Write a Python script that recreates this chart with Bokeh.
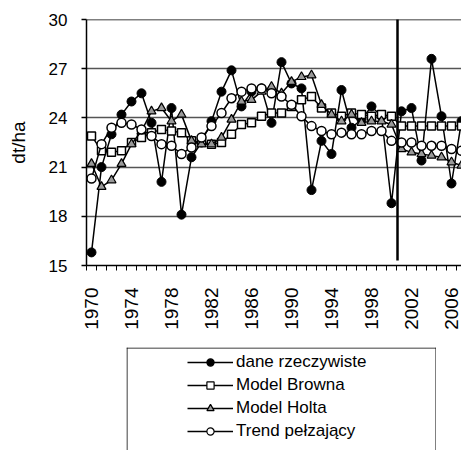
import math
from bokeh.plotting import figure
from bokeh.layouts import column, row
from bokeh.models import (FixedTicker, Legend, LegendItem, Span, Spacer,
                          ColumnDataSource, Range1d)
from bokeh.embed import file_html
from bokeh.resources import INLINE

# ---- data ----
years = list(range(1970, 2008))
dane = [15.8, 21.0, 23.0, 24.2, 25.0, 25.5, 23.7, 20.1, 24.6, 18.1,
        21.6, 22.5, 23.8, 25.6, 26.9, 24.7, 25.6, 25.8, 23.7, 27.4,
        26.1, 25.8, 19.6, 22.6, 21.8, 25.7, 23.4, 23.9, 24.7, 24.1,
        18.8, 24.4, 24.6, 21.4, 27.6, 24.1, 20.0, 23.8]
brown = [22.9, 22.0, 21.9, 22.0, 22.5, 22.8, 23.1, 23.3, 23.2, 23.1,
         22.6, 22.5, 22.4, 22.5, 23.0, 23.6, 23.7, 24.1, 24.3, 24.3,
         24.7, 25.1, 25.3, 24.6, 24.3, 24.1, 24.3, 24.2, 24.1, 24.2,
         24.1, 23.5, 23.5, 23.5, 23.5, 23.5, 23.5, 23.5]
holt = [21.2, 19.8, 20.2, 21.2, 22.4, 23.2, 24.4, 24.6, 23.8, 24.2,
        22.6, 22.4, 22.4, 22.8, 23.9, 25.0, 25.1, 25.6, 25.9, 25.5,
        26.2, 26.5, 26.6, 24.8, 24.2, 23.8, 24.2, 23.7, 23.8, 23.8,
        23.6, 22.1, 21.9, 21.8, 21.7, 21.6, 21.3, 21.1]
trend = [20.3, 22.4, 23.4, 23.7, 23.6, 23.3, 22.9, 22.4, 22.3, 21.8,
         22.2, 22.8, 23.5, 24.3, 25.2, 25.6, 25.8, 25.8, 25.5, 25.3,
         24.8, 24.1, 23.5, 23.2, 23.0, 23.1, 23.0, 23.0, 23.2, 23.2,
         22.6, 22.5, 22.5, 22.3, 22.3, 22.3, 22.1, 22.0]
y_ticks = [15, 18, 21, 24, 27, 30]
x_label_years = list(range(1970, 2008, 4))
split_year = 2000.6
labels = ["dane rzeczywiste", "Model Browna", "Model Holta", "Trend pełzający"]

FONT = "Liberation Sans"

# ---------------- main chart ----------------
p = figure(width=461, height=347, output_backend="svg", toolbar_location=None,
           x_range=Range1d(1969.5, 2007.0), y_range=Range1d(15, 30),
           min_border_left=86, min_border_right=0, min_border_top=19,
           min_border_bottom=82)
p.outline_line_color = None
p.background_fill_color = "white"
p.border_fill_color = "white"

p.xgrid.visible = False
p.ygrid.ticker = FixedTicker(ticks=y_ticks)
p.ygrid.grid_line_color = "#555555"
p.ygrid.grid_line_width = 1.5

p.yaxis.ticker = FixedTicker(ticks=y_ticks)
p.yaxis.axis_line_color = "black"
p.yaxis.axis_line_width = 1.5
p.yaxis.major_tick_out = 5
p.yaxis.major_tick_in = 0
p.yaxis.major_tick_line_color = "black"
p.yaxis.major_tick_line_width = 1.5
p.yaxis.minor_tick_line_color = None
p.yaxis.major_label_standoff = 14
p.yaxis.major_label_text_font = FONT
p.yaxis.major_label_text_font_size = "17px"
p.yaxis.major_label_text_color = "black"
p.yaxis.axis_label = "dt/ha"
p.yaxis.axis_label_text_font = FONT
p.yaxis.axis_label_text_font_size = "19px"
p.yaxis.axis_label_text_font_style = "normal"
p.yaxis.axis_label_text_color = "black"
p.yaxis.axis_label_standoff = 17

p.xaxis.ticker = FixedTicker(ticks=x_label_years,
                             minor_ticks=[y - 0.5 for y in years])
p.xaxis.axis_line_color = "black"
p.xaxis.axis_line_width = 1.5
p.xaxis.major_tick_out = 0
p.xaxis.major_tick_in = 0
p.xaxis.minor_tick_out = 5
p.xaxis.minor_tick_in = 0
p.xaxis.minor_tick_line_color = "black"
p.xaxis.minor_tick_line_width = 1
p.xaxis.major_label_orientation = math.pi / 2
p.xaxis.major_label_standoff = 17
p.xaxis.major_label_text_font = FONT
p.xaxis.major_label_text_font_size = "19px"
p.xaxis.major_label_text_color = "black"

p.add_layout(Span(location=30, dimension="width", line_color="black", line_width=1.5))

src = ColumnDataSource(dict(year=years, dane=dane, brown=brown, holt=holt, trend=trend))

styles = [
    ("dane", "circle", 9, "black", 1.0),
    ("brown", "square", 8, "white", 1.5),
    ("holt", "triangle", 9, "#999999", 1.2),
    ("trend", "circle", 9, "white", 1.5),
]
for col, marker, size, fill, lw in styles:
    p.line("year", col, source=src, line_color="black", line_width=1.5)
    p.scatter("year", col, source=src, marker=marker, size=size,
              fill_color=fill, line_color="black", line_width=lw)

p.segment(x0=[split_year], y0=[15.3], x1=[split_year], y1=[30.2],
          line_color="black", line_width=2.5)

# ---------------- legend panel ----------------
LW, LH = 310, 103
lf = figure(width=LW, height=LH, output_backend="svg", toolbar_location=None,
            x_range=Range1d(0, 1), y_range=Range1d(0, 1),
            x_axis_location=None, y_axis_location=None,
            min_border_left=0, min_border_right=0, min_border_top=0,
            min_border_bottom=0)
lf.outline_line_color = None
lf.xgrid.visible = False
lf.ygrid.visible = False
lf.background_fill_color = "white"
lf.border_fill_color = "white"

# legend-only sample renderers, kept outside the visible range
hidden = dict(x=[-5, -4], y=[-5, -4])
items = []
for (col, marker, size, fill, lw), lab in zip(styles, labels):
    lr = lf.line(x=hidden["x"], y=hidden["y"], line_color="black", line_width=1.5)
    sr = lf.scatter(x=hidden["x"], y=hidden["y"], marker=marker, size=size,
                    fill_color=fill, line_color="black", line_width=1.2)
    items.append(LegendItem(label=lab, renderers=[lr, sr]))

legend = Legend(items=items, location=(61, 9), orientation="vertical",
                border_line_color=None, background_fill_alpha=0,
                padding=0, margin=0, spacing=3,
                glyph_width=46, glyph_height=18, label_height=20,
                label_standoff=3, label_text_font=FONT,
                label_text_font_size="17px", label_text_color="black")
lf.add_layout(legend)

lf.add_layout(Span(location=0.5, location_units="screen", dimension="height",
                   line_color="black", line_width=1))
lf.add_layout(Span(location=LW - 0.5, location_units="screen", dimension="height",
                   line_color="black", line_width=1))
lf.add_layout(Span(location=LH - 0.5, location_units="screen", dimension="width",
                   line_color="black", line_width=1))

layout = column(p, row(Spacer(width=126, height=LH), lf))

open("out.html", "w").write(file_html(layout, INLINE))
